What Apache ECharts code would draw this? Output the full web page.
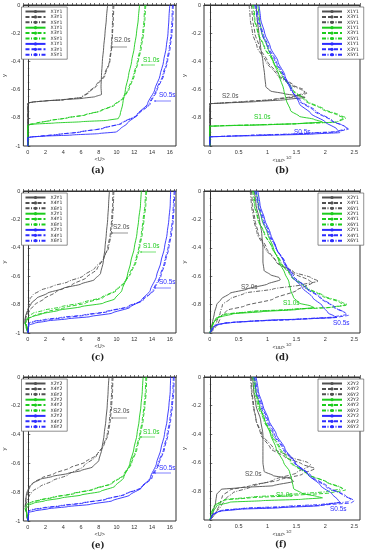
<!DOCTYPE html>
<html><head><meta charset="utf-8">
<script src="https://cdn.jsdelivr.net/npm/echarts@6/dist/echarts.min.js"></script>
<style>html,body{margin:0;padding:0;background:#fff}#c{width:366px;height:550px}</style>
</head><body><div id="c"></div>
<script>
// ---------- data: [x, y] pairs ----------
// Panel (a): <U>, X1Y1/X3Y1/X5Y1
const A_G1=[[9.0,0],[8.85,-0.1],[8.7,-0.2],[8.55,-0.3],[8.4,-0.4],[8.3,-0.5],[8.25,-0.58],[8.3,-0.635],[7.6,-0.65],[6.2,-0.662],[4,-0.672],[2,-0.68],[0.6,-0.688],[0.1,-0.693],[0,-0.7],[0,-1]];
const A_G3=[[9.7,0],[9.65,-0.1],[9.55,-0.2],[9.45,-0.3],[9.25,-0.4],[8.7,-0.5],[7.8,-0.57],[6.9,-0.62],[6.1,-0.655],[4,-0.672],[2,-0.68],[0.6,-0.688],[0.1,-0.694],[0,-0.7],[0,-1]];
const A_G5=[[9.6,0],[9.55,-0.1],[9.5,-0.2],[9.4,-0.3],[9.2,-0.4],[8.6,-0.5],[7.7,-0.57],[6.8,-0.62],[6.0,-0.655],[4,-0.672],[2,-0.68],[0.6,-0.688],[0.1,-0.694],[0,-0.7],[0,-1]];
const A_N1=[[12.6,0],[12.45,-0.1],[12.25,-0.2],[12.0,-0.3],[11.7,-0.4],[11.35,-0.5],[11.0,-0.6],[10.7,-0.7],[10.4,-0.78],[10.2,-0.805],[9,-0.818],[6,-0.828],[3,-0.837],[1,-0.844],[0.2,-0.848],[0,-0.855],[0,-1]];
const A_N3=[[13.3,0],[13.2,-0.1],[13.05,-0.2],[12.8,-0.3],[12.45,-0.4],[12.0,-0.5],[11.4,-0.6],[10.8,-0.66],[9.8,-0.71],[8.3,-0.75],[6.5,-0.78],[4.5,-0.8],[2.5,-0.82],[1,-0.837],[0.2,-0.848],[0,-0.855],[0,-1]];
const A_N5=[[13.2,0],[13.1,-0.1],[12.95,-0.2],[12.7,-0.3],[12.35,-0.4],[11.9,-0.5],[11.3,-0.6],[10.7,-0.66],[9.7,-0.71],[8.2,-0.75],[6.4,-0.78],[4.4,-0.8],[2.4,-0.82],[1,-0.837],[0.2,-0.848],[0,-0.855],[0,-1]];
const A_B1=[[16.0,0],[15.9,-0.1],[15.8,-0.2],[15.6,-0.3],[15.3,-0.4],[14.9,-0.5],[14.3,-0.6],[13.5,-0.7],[12.3,-0.78],[11.2,-0.84],[10.4,-0.88],[10.0,-0.9],[8,-0.912],[5,-0.922],[2,-0.93],[0.5,-0.935],[0,-0.94],[0,-1]];
const A_B3=[[16.4,0],[16.35,-0.1],[16.25,-0.2],[16.05,-0.3],[15.75,-0.4],[15.3,-0.5],[14.6,-0.6],[13.8,-0.7],[12.4,-0.78],[10.6,-0.84],[8.5,-0.875],[6,-0.9],[3.5,-0.918],[1.5,-0.93],[0.3,-0.937],[0,-0.94],[0,-1]];
const A_B5=[[16.3,0],[16.25,-0.1],[16.15,-0.2],[15.95,-0.3],[15.65,-0.4],[15.2,-0.5],[14.5,-0.6],[13.7,-0.7],[12.3,-0.78],[10.5,-0.84],[8.4,-0.875],[5.9,-0.9],[3.4,-0.918],[1.4,-0.93],[0.3,-0.937],[0,-0.94],[0,-1]];
// Panel (b): <uu>^1/2, X1Y1/X3Y1/X5Y1
const B_G1=[[0.8,0],[0.82,-0.1],[0.85,-0.2],[0.88,-0.3],[0.92,-0.4],[0.95,-0.5],[0.97,-0.58],[1.05,-0.61],[1.3,-0.63],[1.55,-0.645],[1.65,-0.655],[1.3,-0.672],[0.8,-0.685],[0.3,-0.695],[0,-0.7],[0,-1]];
const B_G3=[[0.72,0],[0.74,-0.1],[0.78,-0.2],[0.86,-0.3],[1.0,-0.4],[1.2,-0.5],[1.45,-0.57],[1.62,-0.6],[1.65,-0.62],[1.5,-0.645],[1.1,-0.67],[0.6,-0.685],[0.2,-0.695],[0,-0.7],[0,-1]];
const B_G5=[[0.68,0],[0.7,-0.1],[0.74,-0.2],[0.82,-0.3],[0.97,-0.4],[1.17,-0.5],[1.42,-0.57],[1.6,-0.605],[1.68,-0.625],[1.5,-0.65],[1.1,-0.672],[0.6,-0.686],[0.2,-0.695],[0,-0.7],[0,-1]];
const B_N1=[[0.83,0],[0.86,-0.1],[0.9,-0.2],[1.0,-0.3],[1.1,-0.4],[1.2,-0.5],[1.28,-0.6],[1.32,-0.67],[1.4,-0.75],[1.55,-0.79],[1.8,-0.81],[1.95,-0.83],[1.6,-0.84],[1.0,-0.85],[0.4,-0.855],[0,-0.86],[0,-1]];
const B_N3=[[0.76,0],[0.78,-0.1],[0.84,-0.2],[0.95,-0.3],[1.1,-0.4],[1.25,-0.5],[1.42,-0.6],[1.65,-0.68],[1.95,-0.74],[2.2,-0.78],[2.32,-0.8],[2.2,-0.83],[1.5,-0.842],[0.8,-0.85],[0.2,-0.856],[0,-0.86],[0,-1]];
const B_N5=[[0.74,0],[0.77,-0.1],[0.83,-0.2],[0.94,-0.3],[1.09,-0.4],[1.25,-0.5],[1.44,-0.6],[1.68,-0.68],[1.98,-0.74],[2.24,-0.78],[2.36,-0.8],[2.22,-0.83],[1.5,-0.842],[0.8,-0.85],[0.2,-0.856],[0,-0.86],[0,-1]];
const B_B1=[[0.85,0],[0.88,-0.1],[0.95,-0.2],[1.05,-0.3],[1.18,-0.4],[1.3,-0.5],[1.42,-0.6],[1.55,-0.7],[1.75,-0.77],[2.0,-0.83],[2.2,-0.88],[2.25,-0.905],[1.8,-0.915],[1.0,-0.925],[0.4,-0.93],[0,-0.935],[0,-1]];
const B_B3=[[0.8,0],[0.84,-0.1],[0.92,-0.2],[1.02,-0.3],[1.15,-0.4],[1.28,-0.5],[1.4,-0.6],[1.55,-0.68],[1.8,-0.75],[2.1,-0.82],[2.35,-0.865],[2.4,-0.88],[2.2,-0.9],[1.5,-0.915],[0.7,-0.925],[0.2,-0.932],[0,-0.935],[0,-1]];
const B_B5=[[0.78,0],[0.82,-0.1],[0.9,-0.2],[1.0,-0.3],[1.13,-0.4],[1.27,-0.5],[1.4,-0.6],[1.57,-0.68],[1.83,-0.75],[2.12,-0.82],[2.33,-0.86],[2.38,-0.875],[2.2,-0.897],[1.5,-0.913],[0.7,-0.924],[0.2,-0.932],[0,-0.935],[0,-1]];
// Panel (c): <U>, X2Y1/X4Y1/X6Y1
const C_G2=[[9.2,0],[9.1,-0.1],[9.0,-0.2],[8.85,-0.3],[8.7,-0.4],[8.5,-0.5],[8.2,-0.58],[7.5,-0.625],[6.0,-0.655],[4.0,-0.685],[2.2,-0.72],[1.0,-0.755],[0.4,-0.79],[0.05,-0.83],[-0.25,-0.88],[-0.35,-0.92],[-0.1,-0.96],[0,-1]];
const C_G4=[[9.6,0],[9.55,-0.1],[9.45,-0.2],[9.3,-0.3],[9.0,-0.4],[8.6,-0.47],[7.8,-0.55],[6.6,-0.61],[5.0,-0.66],[3.2,-0.71],[1.8,-0.76],[0.8,-0.8],[0.2,-0.84],[-0.2,-0.89],[-0.3,-0.93],[-0.05,-0.97],[0,-1]];
const C_G6=[[9.7,0],[9.65,-0.1],[9.55,-0.2],[9.4,-0.3],[9.1,-0.4],[8.5,-0.48],[7.6,-0.54],[6.2,-0.6],[4.5,-0.64],[2.8,-0.67],[1.4,-0.7],[0.6,-0.73],[0.25,-0.76],[0.1,-0.8],[-0.1,-0.86],[-0.3,-0.9],[-0.1,-0.95],[0,-1]];
const C_N2=[[12.8,0],[12.7,-0.1],[12.5,-0.2],[12.3,-0.3],[12.0,-0.4],[11.6,-0.5],[11.2,-0.6],[10.6,-0.7],[9.8,-0.76],[8.5,-0.79],[6,-0.815],[3.5,-0.84],[1.6,-0.865],[0.5,-0.885],[0,-0.9],[-0.3,-0.93],[-0.2,-0.96],[0,-1]];
const C_N4=[[13.4,0],[13.3,-0.1],[13.1,-0.2],[12.9,-0.3],[12.6,-0.4],[12.2,-0.5],[11.6,-0.58],[11.0,-0.64],[10.0,-0.7],[8.5,-0.75],[6.5,-0.79],[4.2,-0.82],[2.2,-0.85],[0.8,-0.875],[0.1,-0.895],[-0.3,-0.93],[-0.15,-0.965],[0,-1]];
const C_N6=[[13.3,0],[13.2,-0.1],[13.0,-0.2],[12.8,-0.3],[12.5,-0.4],[12.1,-0.5],[11.5,-0.58],[10.9,-0.64],[9.9,-0.7],[8.3,-0.75],[6.2,-0.785],[3.8,-0.815],[1.8,-0.84],[0.6,-0.86],[0.1,-0.88],[-0.25,-0.92],[-0.1,-0.96],[0,-1]];
const C_B2=[[16.1,0],[16.05,-0.1],[15.9,-0.2],[15.7,-0.3],[15.4,-0.4],[15.0,-0.5],[14.5,-0.6],[13.8,-0.7],[12.8,-0.77],[11.5,-0.82],[9.5,-0.86],[7,-0.885],[4.5,-0.9],[2.2,-0.915],[0.8,-0.93],[0.1,-0.945],[0,-1]];
const C_B4=[[16.6,0],[16.5,-0.1],[16.4,-0.2],[16.2,-0.3],[15.9,-0.4],[15.5,-0.5],[15.0,-0.6],[14.2,-0.7],[13.0,-0.77],[11.4,-0.815],[9.0,-0.85],[6.5,-0.875],[4.0,-0.893],[2.0,-0.908],[0.7,-0.92],[0.1,-0.935],[0,-1]];
const C_B6=[[16.5,0],[16.4,-0.1],[16.3,-0.2],[16.1,-0.3],[15.8,-0.4],[15.4,-0.5],[14.9,-0.6],[14.1,-0.7],[12.9,-0.77],[11.2,-0.815],[8.8,-0.85],[6.3,-0.873],[3.8,-0.89],[1.9,-0.905],[0.6,-0.918],[0.1,-0.93],[0,-1]];
// Panel (d): <uu>^1/2, X2Y1/X4Y1/X6Y1
const D_G2=[[0.77,0],[0.8,-0.1],[0.86,-0.2],[0.9,-0.3],[0.92,-0.4],[0.92,-0.5],[0.94,-0.56],[1.05,-0.59],[1.2,-0.61],[1.22,-0.625],[1.0,-0.655],[0.65,-0.69],[0.35,-0.72],[0.2,-0.76],[0.12,-0.8],[0.08,-0.86],[0.05,-0.92],[0.02,-0.97],[0,-1]];
const D_G4=[[0.72,0],[0.74,-0.1],[0.78,-0.2],[0.84,-0.3],[0.98,-0.4],[1.15,-0.5],[1.45,-0.58],[1.72,-0.63],[1.78,-0.645],[1.5,-0.7],[1.1,-0.76],[0.6,-0.81],[0.3,-0.84],[0.2,-0.88],[0.15,-0.93],[0.08,-0.97],[0,-1]];
const D_G6=[[0.7,0],[0.72,-0.1],[0.76,-0.2],[0.82,-0.3],[0.95,-0.4],[1.15,-0.5],[1.45,-0.57],[1.75,-0.61],[1.88,-0.635],[1.6,-0.66],[1.1,-0.69],[0.6,-0.72],[0.35,-0.76],[0.22,-0.8],[0.18,-0.86],[0.12,-0.92],[0.05,-0.97],[0,-1]];
const D_N2=[[0.8,0],[0.84,-0.1],[0.9,-0.2],[1.0,-0.3],[1.1,-0.4],[1.2,-0.5],[1.3,-0.58],[1.37,-0.64],[1.4,-0.7],[1.45,-0.75],[1.55,-0.79],[1.75,-0.81],[1.8,-0.82],[1.5,-0.835],[0.9,-0.85],[0.4,-0.865],[0.15,-0.89],[0.06,-0.93],[0,-1]];
const D_N4=[[0.76,0],[0.78,-0.1],[0.84,-0.2],[0.95,-0.3],[1.08,-0.4],[1.22,-0.5],[1.4,-0.6],[1.65,-0.68],[1.95,-0.74],[2.25,-0.785],[2.35,-0.805],[2.1,-0.82],[1.4,-0.835],[0.7,-0.85],[0.25,-0.87],[0.1,-0.9],[0.04,-0.95],[0,-1]];
const D_N6=[[0.74,0],[0.77,-0.1],[0.83,-0.2],[0.94,-0.3],[1.08,-0.4],[1.23,-0.5],[1.42,-0.6],[1.68,-0.68],[1.98,-0.74],[2.28,-0.782],[2.38,-0.8],[2.12,-0.818],[1.4,-0.833],[0.7,-0.848],[0.25,-0.868],[0.1,-0.9],[0.04,-0.95],[0,-1]];
const D_B2=[[0.83,0],[0.87,-0.1],[0.95,-0.2],[1.05,-0.3],[1.15,-0.4],[1.28,-0.5],[1.42,-0.6],[1.6,-0.68],[1.78,-0.75],[1.95,-0.81],[2.05,-0.86],[2.15,-0.88],[2.2,-0.89],[1.7,-0.9],[1.0,-0.91],[0.4,-0.925],[0.12,-0.94],[0.03,-0.97],[0,-1]];
const D_B4=[[0.8,0],[0.85,-0.1],[0.93,-0.2],[1.03,-0.3],[1.15,-0.4],[1.3,-0.5],[1.45,-0.6],[1.65,-0.68],[1.9,-0.75],[2.15,-0.82],[2.35,-0.86],[2.4,-0.875],[2.2,-0.89],[1.5,-0.905],[0.7,-0.918],[0.25,-0.93],[0.08,-0.95],[0,-1]];
const D_B6=[[0.78,0],[0.83,-0.1],[0.91,-0.2],[1.01,-0.3],[1.14,-0.4],[1.29,-0.5],[1.45,-0.6],[1.67,-0.68],[1.92,-0.75],[2.17,-0.82],[2.33,-0.855],[2.36,-0.87],[2.15,-0.887],[1.5,-0.903],[0.7,-0.916],[0.25,-0.93],[0.08,-0.95],[0,-1]];
// Panel (e): <U>, X2Y2/X4Y2/X6Y2
const E_G2=[[9.15,0],[9.05,-0.1],[8.95,-0.2],[8.8,-0.3],[8.6,-0.4],[8.35,-0.5],[8.0,-0.58],[7.3,-0.625],[6.0,-0.65],[4.5,-0.67],[2.8,-0.69],[1.4,-0.71],[0.5,-0.74],[0.1,-0.77],[-0.15,-0.81],[-0.25,-0.86],[-0.15,-0.92],[0,-1]];
const E_G4=[[9.6,0],[9.55,-0.1],[9.45,-0.2],[9.3,-0.3],[9.05,-0.4],[8.6,-0.47],[7.8,-0.54],[6.5,-0.59],[4.8,-0.63],[3.0,-0.67],[1.6,-0.7],[0.7,-0.73],[0.25,-0.76],[0,-0.8],[-0.2,-0.85],[-0.3,-0.9],[-0.1,-0.96],[0,-1]];
const E_G6=[[9.5,0],[9.45,-0.1],[9.35,-0.2],[9.2,-0.3],[8.95,-0.4],[8.5,-0.48],[7.7,-0.55],[6.3,-0.62],[4.5,-0.68],[2.8,-0.72],[1.4,-0.76],[0.6,-0.79],[0.2,-0.82],[-0.1,-0.86],[-0.3,-0.9],[-0.1,-0.95],[0,-1]];
const E_N2=[[13.0,0],[12.9,-0.1],[12.75,-0.2],[12.55,-0.3],[12.3,-0.4],[11.95,-0.5],[11.5,-0.6],[10.8,-0.7],[9.8,-0.76],[8.2,-0.795],[6,-0.82],[3.8,-0.84],[1.9,-0.86],[0.7,-0.875],[0.1,-0.89],[-0.2,-0.92],[-0.1,-0.96],[0,-1]];
const E_N4=[[13.4,0],[13.35,-0.1],[13.2,-0.2],[13.0,-0.3],[12.7,-0.4],[12.3,-0.5],[11.7,-0.6],[10.9,-0.68],[9.5,-0.74],[7.5,-0.78],[5.2,-0.81],[3.0,-0.835],[1.4,-0.855],[0.4,-0.87],[-0.1,-0.885],[-0.3,-0.91],[-0.1,-0.95],[0,-1]];
const E_N6=[[13.3,0],[13.25,-0.1],[13.1,-0.2],[12.9,-0.3],[12.6,-0.4],[12.2,-0.5],[11.6,-0.6],[10.8,-0.68],[9.4,-0.74],[7.3,-0.78],[5.0,-0.81],[2.8,-0.835],[1.2,-0.855],[0.3,-0.87],[-0.2,-0.89],[-0.3,-0.915],[-0.1,-0.955],[0,-1]];
const E_B2=[[16.1,0],[16.05,-0.1],[15.9,-0.2],[15.7,-0.3],[15.4,-0.4],[15.0,-0.5],[14.5,-0.6],[13.8,-0.7],[12.8,-0.77],[11.5,-0.82],[9.5,-0.86],[7,-0.885],[4.5,-0.9],[2.3,-0.915],[0.8,-0.93],[0.1,-0.94],[0,-1]];
const E_B4=[[16.5,0],[16.45,-0.1],[16.3,-0.2],[16.1,-0.3],[15.8,-0.4],[15.4,-0.5],[14.8,-0.6],[14.0,-0.7],[12.8,-0.77],[11.0,-0.815],[8.8,-0.85],[6.3,-0.875],[3.8,-0.895],[1.8,-0.91],[0.6,-0.922],[0.1,-0.93],[0,-1]];
const E_B6=[[16.4,0],[16.35,-0.1],[16.2,-0.2],[16.0,-0.3],[15.7,-0.4],[15.3,-0.5],[14.7,-0.6],[13.9,-0.7],[12.7,-0.77],[10.9,-0.815],[8.7,-0.85],[6.2,-0.874],[3.7,-0.893],[1.7,-0.908],[0.5,-0.92],[0.1,-0.93],[0,-1]];
// Panel (f): <uu>^1/2, X2Y2/X4Y2/X6Y2
const F_G2=[[0.74,0],[0.76,-0.1],[0.8,-0.2],[0.88,-0.3],[0.92,-0.4],[0.92,-0.5],[0.92,-0.6],[0.94,-0.66],[1.1,-0.69],[1.4,-0.71],[1.45,-0.73],[1.1,-0.76],[0.5,-0.775],[0.2,-0.785],[0.12,-0.82],[0.1,-0.88],[0.06,-0.94],[0,-1]];
const F_G4=[[0.72,0],[0.73,-0.1],[0.76,-0.2],[0.8,-0.3],[0.88,-0.4],[1.05,-0.5],[1.3,-0.56],[1.6,-0.61],[1.82,-0.64],[1.6,-0.68],[1.2,-0.72],[0.7,-0.76],[0.35,-0.79],[0.22,-0.83],[0.18,-0.88],[0.12,-0.94],[0,-1]];
const F_G6=[[0.7,0],[0.72,-0.1],[0.75,-0.2],[0.8,-0.3],[0.9,-0.4],[1.1,-0.5],[1.4,-0.56],[1.7,-0.6],[1.75,-0.615],[1.5,-0.67],[1.1,-0.72],[0.7,-0.77],[0.4,-0.81],[0.28,-0.85],[0.2,-0.9],[0.1,-0.95],[0,-1]];
const F_N2=[[0.77,0],[0.8,-0.1],[0.86,-0.2],[0.95,-0.3],[1.05,-0.4],[1.15,-0.5],[1.28,-0.6],[1.38,-0.66],[1.42,-0.72],[1.45,-0.78],[1.6,-0.815],[1.85,-0.835],[1.95,-0.845],[1.6,-0.855],[0.9,-0.865],[0.35,-0.875],[0.12,-0.9],[0.05,-0.95],[0,-1]];
const F_N4=[[0.76,0],[0.79,-0.1],[0.85,-0.2],[0.95,-0.3],[1.08,-0.4],[1.22,-0.5],[1.42,-0.6],[1.7,-0.68],[2.05,-0.74],[2.3,-0.78],[2.35,-0.79],[2.1,-0.81],[1.4,-0.83],[0.7,-0.845],[0.25,-0.86],[0.08,-0.9],[0.03,-0.95],[0,-1]];
const F_N6=[[0.74,0],[0.77,-0.1],[0.83,-0.2],[0.93,-0.3],[1.06,-0.4],[1.2,-0.5],[1.4,-0.6],[1.68,-0.68],[2.02,-0.735],[2.26,-0.77],[2.3,-0.78],[2.05,-0.8],[1.4,-0.822],[0.7,-0.84],[0.25,-0.858],[0.08,-0.9],[0.03,-0.95],[0,-1]];
const F_B2=[[0.8,0],[0.84,-0.1],[0.92,-0.2],[1.02,-0.3],[1.15,-0.4],[1.3,-0.5],[1.48,-0.6],[1.7,-0.68],[1.92,-0.76],[2.12,-0.82],[2.22,-0.86],[2.25,-0.875],[1.9,-0.9],[1.2,-0.915],[0.5,-0.925],[0.15,-0.94],[0.04,-0.97],[0,-1]];
const F_B4=[[0.78,0],[0.82,-0.1],[0.9,-0.2],[1.0,-0.3],[1.12,-0.4],[1.28,-0.5],[1.48,-0.6],[1.75,-0.69],[2.05,-0.77],[2.35,-0.83],[2.5,-0.865],[2.45,-0.88],[2.0,-0.895],[1.3,-0.91],[0.6,-0.92],[0.2,-0.935],[0.05,-0.96],[0,-1]];
const F_B6=[[0.76,0],[0.8,-0.1],[0.88,-0.2],[0.98,-0.3],[1.1,-0.4],[1.26,-0.5],[1.46,-0.6],[1.72,-0.69],[2.02,-0.77],[2.3,-0.825],[2.44,-0.855],[2.4,-0.872],[1.95,-0.89],[1.3,-0.905],[0.6,-0.917],[0.2,-0.932],[0.05,-0.96],[0,-1]];

// legend names per panel row
const NAMES_R1=['X1Y1','X3Y1','X5Y1'];
const NAMES_R2=['X2Y1','X4Y1','X6Y1'];
const NAMES_R3=['X2Y2','X4Y2','X6Y2'];
const PANEL_LETTERS=['(a)','(b)','(c)','(d)','(e)','(f)'];
const CASE_LABELS=['S2.0s','S1.0s','S0.5s'];

// ---------- styling ----------
const COLORS=['#505050','#1ccc1c','#2d2dff'];
const DASH=['solid',[4,2],[4,1.5,1,1.5]];
const PANELS=[
  {data:[[A_G1,A_G3,A_G5],[A_N1,A_N3,A_N5],[A_B1,A_B3,A_B5]],names:NAMES_R1,left:20,top:5,h:141,kind:'U'},
  {data:[[B_G1,B_G3,B_G5],[B_N1,B_N3,B_N5],[B_B1,B_B3,B_B5]],names:NAMES_R1,left:204,top:5,h:141,kind:'uu'},
  {data:[[C_G2,C_G4,C_G6],[C_N2,C_N4,C_N6],[C_B2,C_B4,C_B6]],names:NAMES_R2,left:20,top:191,h:142,kind:'U'},
  {data:[[D_G2,D_G4,D_G6],[D_N2,D_N4,D_N6],[D_B2,D_B4,D_B6]],names:NAMES_R2,left:204,top:191,h:142,kind:'uu'},
  {data:[[E_G2,E_G4,E_G6],[E_N2,E_N4,E_N6],[E_B2,E_B4,E_B6]],names:NAMES_R3,left:20,top:377,h:144,kind:'U'},
  {data:[[F_G2,F_G4,F_G6],[F_N2,F_N4,F_N6],[F_B2,F_B4,F_B6]],names:NAMES_R3,left:204,top:377,h:143,kind:'uu'}
];
const W=156;
const FONT='Liberation Sans';
const grids=[],xAxes=[],yAxes=[],series=[],legends=[],graphics=[];
PANELS.forEach((p,i)=>{
  grids.push({left:p.left,top:p.top,width:W,height:p.h,show:true,borderColor:'#333',borderWidth:1,backgroundColor:'transparent'});
  const isU=p.kind==='U';
  xAxes.push({type:'value',gridIndex:i,
    min:isU?-0.5:-0.1,max:isU?16.7:2.6,interval:isU?0.5:0.1,
    splitLine:{show:false},
    axisLine:{lineStyle:{color:'#333',width:1}},
    axisTick:{inside:true,length:2,lineStyle:{color:'#333',width:0.7}},
    axisLabel:{fontSize:5.5,fontFamily:FONT,color:'#333',margin:3,
      formatter:v=>{ if(isU){const r=Math.round(v);return (Math.abs(v-r)<1e-6&&r%2===0)?String(r):'';}
        const t=Math.round(v*10); return (t%5===0)?String(t/10):''; }},
    name:isU?'<U>':'{a|<uu>}{s|1/2}',nameLocation:'middle',nameGap:10,
    nameTextStyle:{fontSize:5.5,fontFamily:FONT,color:'#333',rich:{a:{fontSize:5.5,fontFamily:FONT,color:'#333'},s:{fontSize:4,fontFamily:FONT,color:'#333',verticalAlign:'top',padding:[0,0,4,1]}}}
  });
  yAxes.push({type:'value',gridIndex:i,min:-1,max:0,interval:0.2,
    splitLine:{show:false},
    axisLine:{lineStyle:{color:'#333',width:1}},
    axisTick:{inside:true,length:2.5,lineStyle:{color:'#333',width:0.7}},
    minorTick:{show:true,splitNumber:4,length:1.5,lineStyle:{color:'#333',width:0.5}},
    axisLabel:{fontSize:5.5,fontFamily:FONT,color:'#333',margin:3,
      formatter:v=>{ const t=Math.round(v*10)/10; if(!isU && t===-1) return ''; return String(t);} },
    name:'y',nameLocation:'middle',nameGap:12,nameRotate:90,
    nameTextStyle:{fontSize:6,fontFamily:FONT,color:'#333'}
  });
  const legNames=[];
  p.data.forEach((grp,g)=>{
    grp.forEach((arr,k)=>{
      const nm=p.names[k]+' '.repeat(g);
      legNames.push(nm);
      series.push({type:'line',name:nm,xAxisIndex:i,yAxisIndex:i,data:arr,symbol:'none',showSymbol:false,
        smooth:0.2,smoothMonotone:'y',clip:true,animation:false,
        lineStyle:{color:COLORS[g],width:0.9,type:DASH[k]},itemStyle:{color:COLORS[g]}});
    });
  });
  legends.push({data:legNames,orient:'vertical',left:isU?p.left+1.5:p.left+114,top:p.top+2,
    selectedMode:false,backgroundColor:'#fff',borderColor:'#444',borderWidth:0.6,
    padding:[2,2,2,3],itemGap:0.4,itemWidth:20,itemHeight:4,itemTextGap:4,
    textStyle:{fontSize:4.6,lineHeight:4.8,fontFamily:'DejaVu Sans',color:'#222'}});
  graphics.push({type:'text',left:p.left+W/2-7,top:p.top+p.h+20,
    style:{text:PANEL_LETTERS[i],font:'bold 8.5px "DejaVu Serif"',fill:'#222'}});
});

// case annotations (text + leader line), pixel positions
const ANN=[
  {t:0,x:114,y:37,line:[112,47,127,47]},{t:1,x:143,y:57,line:[142,65,155,65]},{t:2,x:159,y:92,line:[155,101,171,101]},
  {t:0,x:222,y:93},{t:1,x:254,y:114},{t:2,x:294,y:129},
  {t:0,x:113,y:224,line:[112,233,128,233]},{t:1,x:143,y:243,line:[141,252,156,252]},{t:2,x:159,y:279,line:[155,288,171,288]},
  {t:0,x:241,y:284},{t:1,x:283,y:300},{t:2,x:333,y:320},
  {t:0,x:113,y:408,line:[112,418,127,418]},{t:1,x:143,y:429,line:[141,437,155,437]},{t:2,x:159,y:465,line:[155,473,171,473]},
  {t:0,x:245,y:471},{t:1,x:276,y:492},{t:2,x:330,y:506}
];
ANN.forEach(a=>{
  graphics.push({type:'text',left:a.x,top:a.y,z:10,style:{text:CASE_LABELS[a.t],font:'6.5px "Liberation Sans"',fill:COLORS[a.t]}});
  if(a.line){graphics.push({type:'line',z:10,shape:{x1:a.line[0],y1:a.line[1],x2:a.line[2],y2:a.line[3]},style:{stroke:COLORS[a.t],lineWidth:0.6}});
    graphics.push({type:'circle',z:10,shape:{cx:a.line[0],cy:a.line[1],r:0.8},style:{fill:COLORS[a.t]}});}
});

const chart=echarts.init(document.getElementById('c'),null,{renderer:'canvas'});
chart.setOption({animation:false,backgroundColor:'#fff',grid:grids,xAxis:xAxes,yAxis:yAxes,series:series,legend:legends,graphic:graphics});
</script></body></html>
